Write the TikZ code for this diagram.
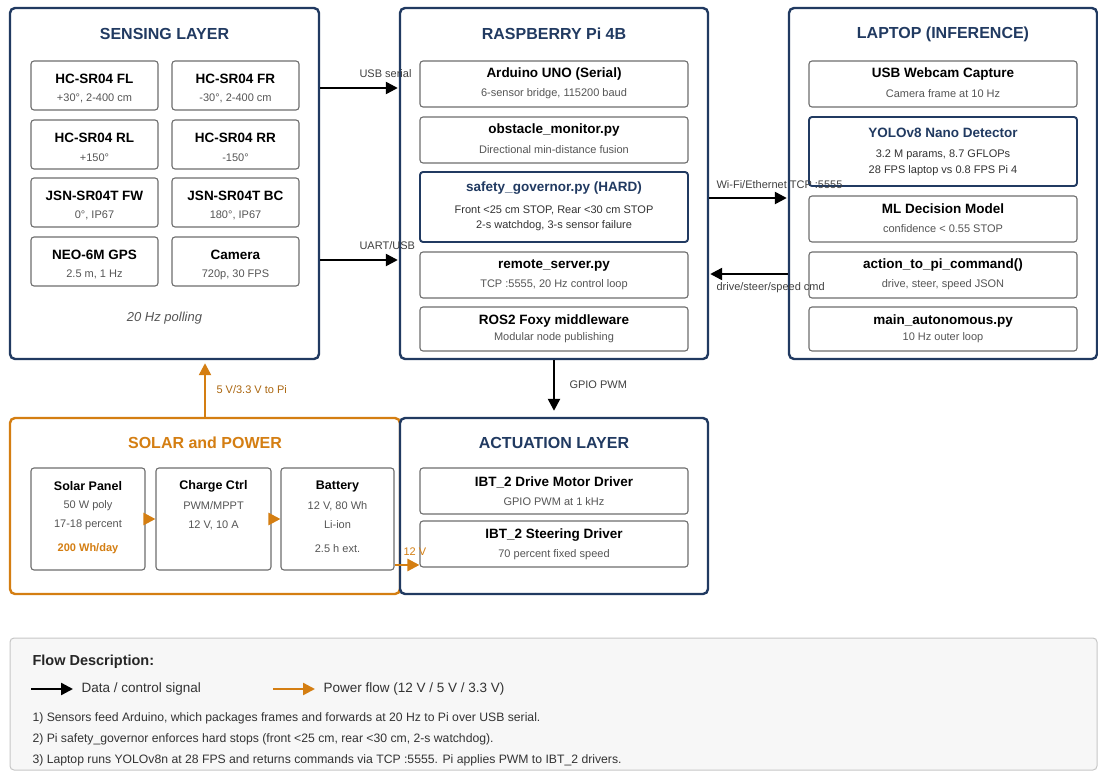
\documentclass[tikz,border=0pt]{standalone}
\usepackage{fontspec}
\setmainfont{Liberation Sans}
\usepackage{tikz}
\usetikzlibrary{arrows.meta,positioning}
\usepackage{xcolor}
\definecolor{navy}{RGB}{33,58,97}
\definecolor{amber}{RGB}{212,126,18}
\definecolor{subgray}{RGB}{85,85,85}
\definecolor{edgegray}{RGB}{110,110,110}
\tikzset{
  layer/.style={draw=navy, line width=2.4pt, rounded corners=5pt, fill=white, inner sep=0pt},
  powerlayer/.style={layer, draw=amber},
  unit/.style={draw=edgegray, line width=1.1pt, rounded corners=3pt, fill=white, inner sep=0pt},
  keyunit/.style={unit, draw=navy, line width=1.9pt},
  ltitle/.style={font=\fontsize{16}{19}\selectfont\bfseries, text=navy},
  utitle/.style={font=\fontsize{13.5}{16}\selectfont\bfseries},
  usub/.style={font=\fontsize{11}{13}\selectfont, text=subgray},
  lab/.style={font=\fontsize{11}{13}\selectfont, text=black!75, anchor=west},
  note/.style={font=\fontsize{12.2}{14}\selectfont, text=black!80, anchor=west},
  flow/.style={line width=2.4pt, -{Triangle[length=12pt,width=12pt]}},
  pflow/.style={flow, draw=amber}
}

\begin{document}
\begin{tikzpicture}[x=1pt,y=-1pt]
\useasboundingbox (0,0) rectangle (1098,771);

% Layers
\node[layer, minimum width=309, minimum height=351] (sense) at (164.5,183.5) {};
\node[layer, minimum width=308, minimum height=351] (pi) at (554,183.5) {};
\node[layer, minimum width=308, minimum height=351] (lap) at (943,183.5) {};
\node[powerlayer, minimum width=390, minimum height=176] (solar) at (205,506) {};
\node[layer, minimum width=308, minimum height=176] (act) at (554,506) {};

\node[ltitle] (sense-t) at (164.5,34) {SENSING LAYER};
\node[ltitle] (pi-t) at (554,34) {RASPBERRY Pi 4B};
\node[ltitle] (lap-t) at (943,34) {LAPTOP (INFERENCE)};
\node[ltitle, text=amber] (solar-t) at (205,443) {SOLAR and POWER};
\node[ltitle] (act-t) at (554,443) {ACTUATION LAYER};

% Sensors
\foreach \n/\x/\y/\t/\s in {
  fl/94.5/85.5/HC-SR04 FL/{+30°, 2-400 cm},
  fr/235.5/85.5/HC-SR04 FR/{-30°, 2-400 cm},
  rl/94.5/144.5/HC-SR04 RL/{+150°},
  rr/235.5/144.5/HC-SR04 RR/{-150°},
  fw/94.5/202.5/JSN-SR04T FW/{0°, IP67},
  bc/235.5/202.5/JSN-SR04T BC/{180°, IP67},
  gps/94.5/261.5/NEO-6M GPS/{2.5 m, 1 Hz},
  cam/235.5/261.5/Camera/{720p, 30 FPS}}{
  \node[unit, minimum width=127, minimum height=49] (\n) at (\x,\y) {};
  \node[utitle] (\n-t) at ([yshift=-18pt]\n.north) {\t};
  \node[usub] (\n-s) at ([yshift=-38pt]\n.north) {\s};
}
\node[font=\fontsize{13}{15}\selectfont\itshape, text=subgray] (poll) at (164.5,318) {20 Hz polling};

% Raspberry Pi stack
\node[unit, minimum width=268, minimum height=46] (ard) at (554,84) {};
\node[utitle] (ard-t) at (554,74) {Arduino UNO (Serial)};
\node[usub] (ard-s) at (554,94) {6-sensor bridge, 115200 baud};
\node[unit, minimum width=268, minimum height=46] (obs) at (554,140) {};
\node[utitle] (obs-t) at (554,130) {obstacle\_monitor.py};
\node[usub] (obs-s) at (554,150) {Directional min-distance fusion};
\node[keyunit, minimum width=268, minimum height=70] (safe) at (554,207) {};
\node[utitle, text=navy] (safe-t) at (554,188) {safety\_governor.py (HARD)};
\node[usub, text=black!80] (safe-s) at (554,210) {Front <25 cm STOP, Rear <30 cm STOP};
\node[usub, text=black!80] (safe-u) at (554,226) {2-s watchdog, 3-s sensor failure};
\node[unit, minimum width=268, minimum height=46] (rem) at (554,275) {};
\node[utitle] (rem-t) at (554,265) {remote\_server.py};
\node[usub] (rem-s) at (554,285) {TCP :5555, 20 Hz control loop};
\node[unit, minimum width=268, minimum height=44] (ros) at (554,329) {};
\node[utitle] (ros-t) at (554,321) {ROS2 Foxy middleware};
\node[usub] (ros-s) at (554,338) {Modular node publishing};

% Laptop stack
\node[unit, minimum width=268, minimum height=46] (web) at (943,84) {};
\node[utitle] (web-t) at (943,74) {USB Webcam Capture};
\node[usub] (web-s) at (943,94) {Camera frame at 10 Hz};
\node[keyunit, minimum width=268, minimum height=69] (yolo) at (943,151.5) {};
\node[utitle, text=navy] (yolo-t) at (943,133) {YOLOv8 Nano Detector};
\node[usub, text=black!80] (yolo-s) at (943,155) {3.2 M params, 8.7 GFLOPs};
\node[usub, text=black!80] (yolo-u) at (943,171) {28 FPS laptop vs 0.8 FPS Pi 4};
\node[unit, minimum width=268, minimum height=46] (ml) at (943,219) {};
\node[utitle] (ml-t) at (943,209) {ML Decision Model};
\node[usub] (ml-s) at (943,229) {confidence < 0.55 STOP};
\node[unit, minimum width=268, minimum height=46] (cmd) at (943,275) {};
\node[utitle] (cmd-t) at (943,265) {action\_to\_pi\_command()};
\node[usub] (cmd-s) at (943,285) {drive, steer, speed JSON};
\node[unit, minimum width=268, minimum height=44] (auto) at (943,329) {};
\node[utitle] (auto-t) at (943,321) {main\_autonomous.py};
\node[usub] (auto-s) at (943,338) {10 Hz outer loop};

% Solar chain
\node[unit, minimum width=114, minimum height=102] (panel) at (88,519) {};
\node[utitle, font=\fontsize{12.5}{15}\selectfont\bfseries] (panel-t) at (88,486) {Solar Panel};
\node[usub] (panel-s) at (88,506) {50 W poly};
\node[usub] (panel-u) at (88,525) {17-18 percent};
\node[usub, text=amber, font=\fontsize{11}{13}\selectfont\bfseries] (panel-v) at (88,549) {200 Wh/day};
\node[unit, minimum width=115, minimum height=102] (ctrl) at (213.5,519) {};
\node[utitle, font=\fontsize{12.5}{15}\selectfont\bfseries] (ctrl-t) at (213.5,486) {Charge Ctrl};
\node[usub] (ctrl-s) at (213.5,506) {PWM/MPPT};
\node[usub] (ctrl-u) at (213.5,525) {12 V, 10 A};
\node[unit, minimum width=113, minimum height=102] (bat) at (337.5,519) {};
\node[utitle, font=\fontsize{12.5}{15}\selectfont\bfseries] (bat-t) at (337.5,486) {Battery};
\node[usub] (bat-s) at (337.5,506) {12 V, 80 Wh};
\node[usub] (bat-u) at (337.5,525) {Li-ion};
\node[usub] (bat-v) at (337.5,549) {2.5 h ext.};

% Drivers
\node[unit, minimum width=268, minimum height=46] (drv) at (554,491) {};
\node[utitle] (drv-t) at (554,482) {IBT\_2 Drive Motor Driver};
\node[usub] (drv-s) at (554,502) {GPIO PWM at 1 kHz};
\node[unit, minimum width=268, minimum height=46] (steer) at (554,544) {};
\node[utitle] (steer-t) at (554,535) {IBT\_2 Steering Driver};
\node[usub] (steer-s) at (554,555) {70 percent fixed speed};

% Signal links
\draw[flow, shorten >=1pt] (sense.east |- 0,88) -- (pi.west |- 0,88);
\node[lab] (usb-l) at (356,74) {USB serial};
\draw[flow, shorten >=1pt] (sense.east |- 0,260) -- (pi.west |- 0,260);
\node[lab] (uart-l) at (356,246) {UART/USB};
\draw[flow, shorten >=1pt] (pi.east |- 0,198) -- (lap.west |- 0,198);
\node[lab] (wifi-l) at (713,185) {Wi-Fi/Ethernet TCP :5555};
\draw[flow, shorten >=1pt] (lap.west |- 0,274) -- (pi.east |- 0,274);
\node[lab] (back-l) at (713,288) {drive/steer/speed cmd};
\draw[flow, shorten >=6pt] (pi.south) -- (act.north);
\node[lab] (gpio-l) at (566,385) {GPIO PWM};

% Power links
\draw[pflow, shorten >=3pt] (solar.north) -- (sense.south -| solar.north);
\node[lab, text=amber!80!black] (pwr-l) at (213,390) {5 V/3.3 V to Pi};
\draw[pflow] (panel) -- (ctrl);
\draw[pflow] (ctrl) -- (bat);
\draw[pflow] (bat.east |- 0,565) -- (steer.west |- 0,565);
\node[lab, text=amber] (v12-l) at (400,552) {12 V};

% Flow description
\node[draw=gray!45, fill=gray!6, line width=1pt, rounded corners=4pt, minimum width=1087, minimum height=132, inner sep=0pt] (desc) at (553.5,704) {};
\node[font=\fontsize{14.5}{17}\selectfont\bfseries, text=black!85, anchor=west] (desc-t) at (29,662) {Flow Description:};
\coordinate (kA) at (31,689);
\coordinate (kB) at (73,689);
\coordinate (kC) at (273,689);
\coordinate (kD) at (315,689);
\draw[flow] (kA) -- (kB);
\node[note, font=\fontsize{13.5}{16}\selectfont] (kB-l) at (78,689) {Data / control signal};
\draw[pflow] (kC) -- (kD);
\node[note, font=\fontsize{13.5}{16}\selectfont] (kD-l) at (320,689) {Power flow (12 V / 5 V / 3.3 V)};
\node[note] (n1) at (29,718) {1) Sensors feed Arduino, which packages frames and forwards at 20 Hz to Pi over USB serial.};
\node[note] (n2) at (29,739) {2) Pi safety\_governor enforces hard stops (front <25 cm, rear <30 cm, 2-s watchdog).};
\node[note] (n3) at (29,760) {3) Laptop runs YOLOv8n at 28 FPS and returns commands via TCP :5555. Pi applies PWM to IBT\_2 drivers.};
\end{tikzpicture}
\end{document}
